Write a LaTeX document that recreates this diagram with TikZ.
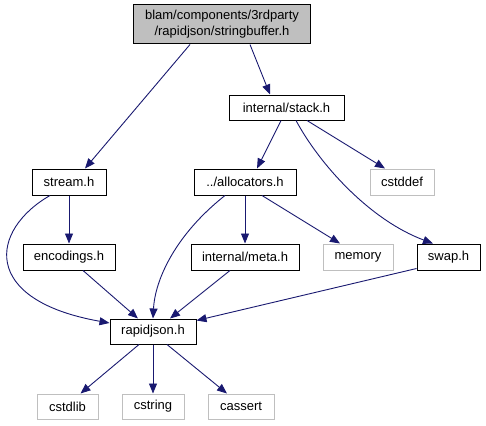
\documentclass[tikz,border=0pt]{standalone}
\usepackage{fontspec}
\setmainfont{Liberation Sans}
\usetikzlibrary{arrows.meta}
\definecolor{edgec}{HTML}{191970}
\definecolor{grayb}{HTML}{BFBFBF}
\begin{document}
\begin{tikzpicture}[x=1pt,y=-1pt,
  box/.style={draw=black,line width=1pt,minimum height=26pt,inner sep=0pt,font=\fontsize{13}{16}\selectfont},
  sysbox/.style={box,draw=grayb},
  dep/.style={draw=edgec,line width=0.9pt,-{Triangle[length=10pt,width=8pt]}}]
\useasboundingbox (0,0) rectangle (486,425);
\node[box,fill=grayb,minimum width=177pt,minimum height=39pt,align=center] (top) at (222,24.5) {blam/components/3rdparty\\/rapidjson/stringbuffer.h};
\node[box,minimum width=115pt,minimum height=25pt] (stack) at (286.5,107.5) {internal/stack.h};
\node[box,minimum width=74pt] (stream) at (69,182) {stream.h};
\node[box,minimum width=92pt] (enc) at (69,257) {encodings.h};
\node[box,minimum width=102pt] (alloc) at (245,182) {../allocators.h};
\node[box,minimum width=108pt] (meta) at (245,257) {internal/meta.h};
\node[sysbox,minimum width=64pt] (cstddef) at (402,182) {cstddef};
\node[sysbox,minimum width=70pt] (memory) at (358,257) {memory};
\node[box,minimum width=63pt] (swap) at (448.5,257) {swap.h};
\node[box,minimum width=86pt,minimum height=25pt] (rapid) at (153,331.5) {rapidjson.h};
\node[sysbox,minimum width=61pt,minimum height=25pt] (cstdlib) at (67.5,406.5) {cstdlib};
\node[sysbox,minimum width=62pt,minimum height=25pt] (cstring) at (153,406.5) {cstring};
\node[sysbox,minimum width=66pt,minimum height=25pt] (cassert) at (241,406.5) {cassert};

\draw[dep] ([xshift=-32pt]top.south) -- ([xshift=16pt]stream.north);
\draw[dep] ([xshift=28pt]top.south) -- ([xshift=-16.5pt]stack.north);
\draw[dep] ([xshift=-5.5pt]stack.south) -- ([xshift=12pt]alloc.north);
\draw[dep] ([xshift=20.5pt]stack.south) -- ([xshift=-17pt]cstddef.north);
\draw[dep] ([xshift=9.5pt]stack.south) .. controls (320,165) and (370,220) .. ([xshift=-15.5pt]swap.north);
\draw[dep] (stream.south) -- (enc.north);
\draw[dep] ([xshift=-19pt]stream.south) .. controls (-10,230) and (-20,300) .. ([yshift=8.5pt]rapid.west);
\draw[dep] ([xshift=14pt]enc.south) -- ([xshift=-15pt]rapid.north);
\draw[dep] (alloc.south) -- (meta.north);
\draw[dep] ([xshift=17pt]alloc.south) -- ([xshift=-18pt]memory.north);
\draw[dep] ([xshift=-20pt]alloc.south) .. controls (175,235) and (155,280) .. (rapid.north);
\draw[dep] ([xshift=-15pt]meta.south) -- ([xshift=17pt]rapid.north);
\draw[dep] ([yshift=2pt]swap.south west) -- ([yshift=11pt]rapid.east);
\draw[dep] ([xshift=-14pt]rapid.south) -- ([xshift=13pt]cstdlib.north);
\draw[dep] (rapid.south) -- (cstring.north);
\draw[dep] ([xshift=14pt]rapid.south) -- ([xshift=-14pt]cassert.north);
\end{tikzpicture}
\end{document}
